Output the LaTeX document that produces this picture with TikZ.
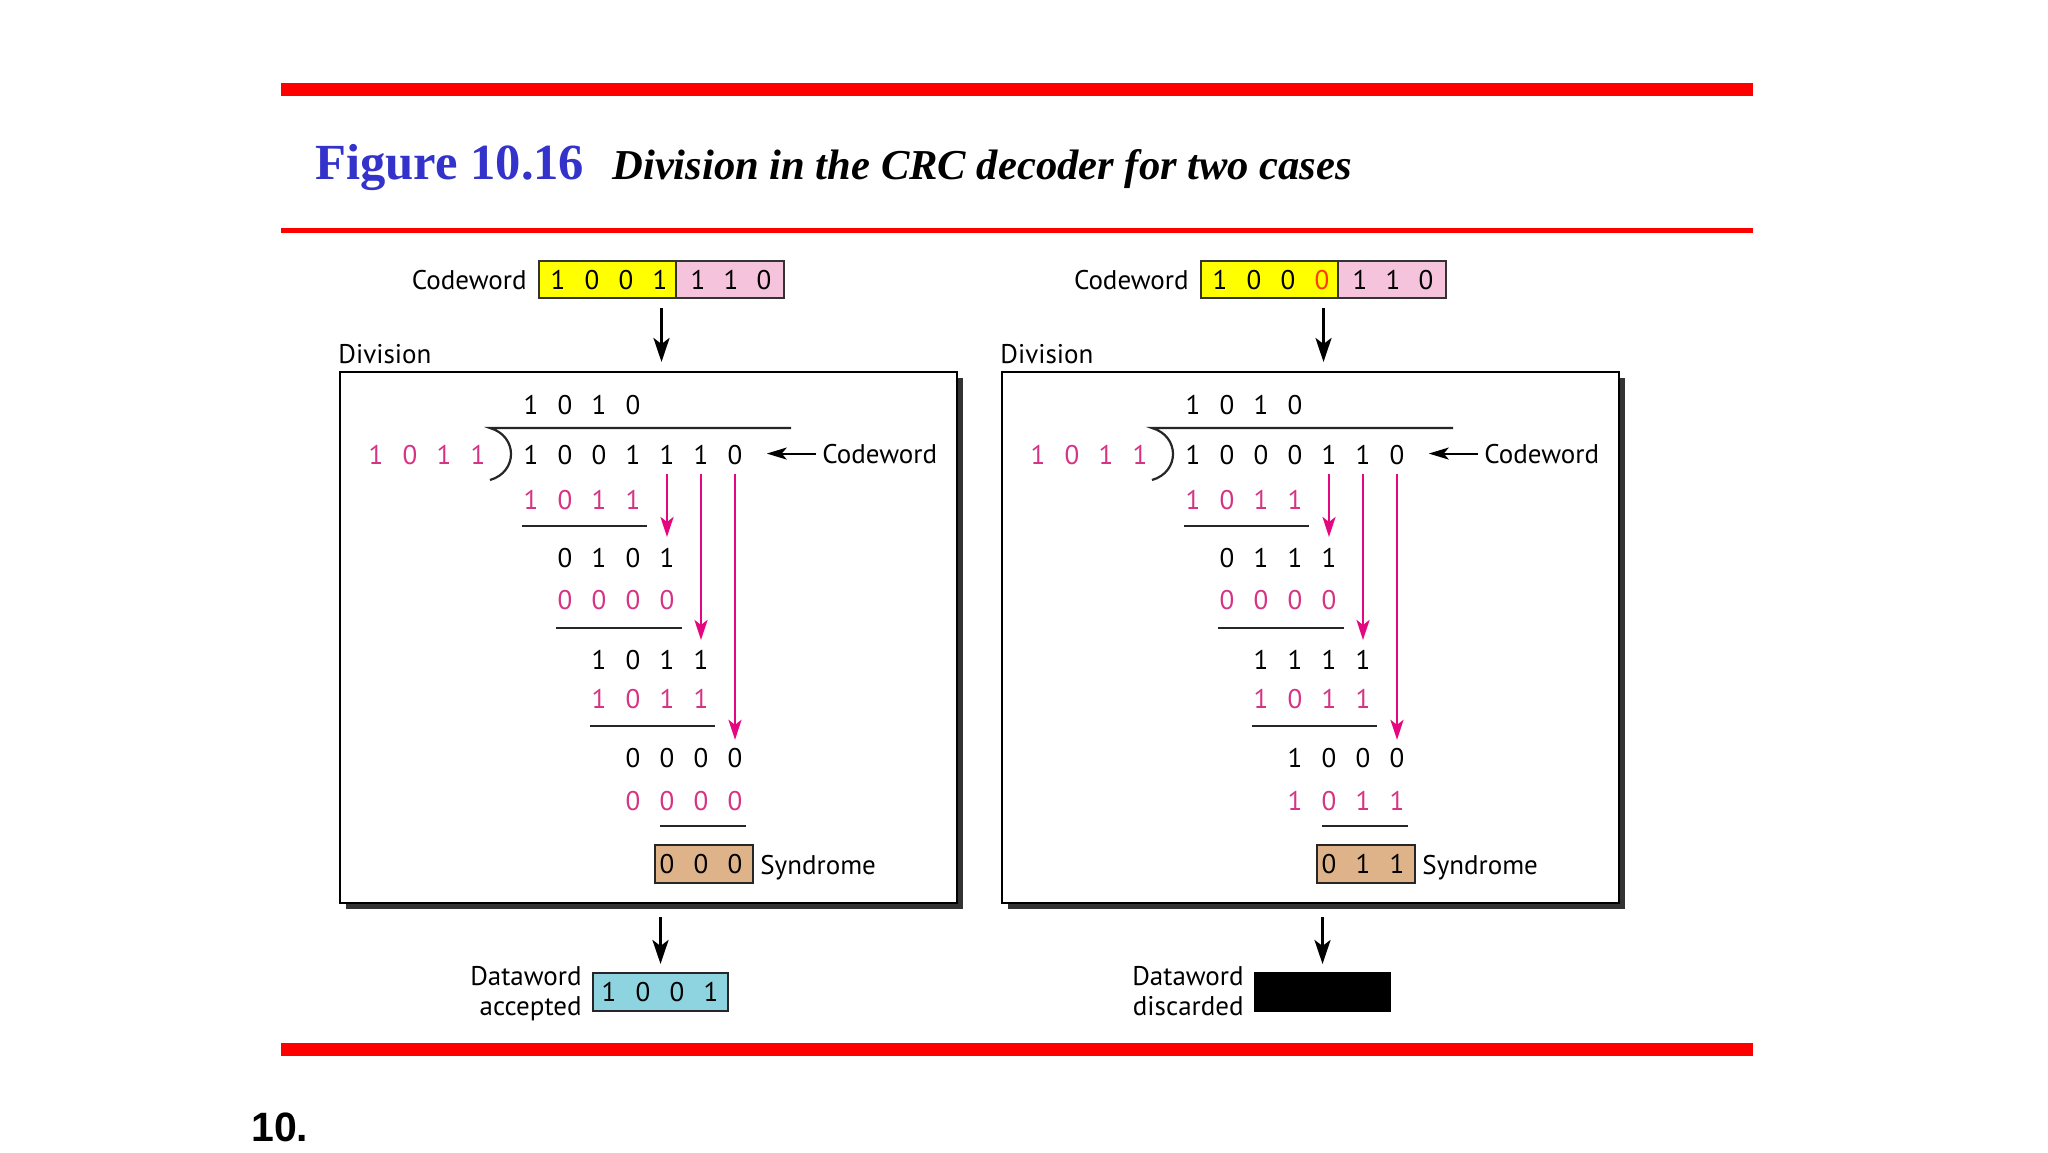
\documentclass[tikz,border=0pt]{standalone}
\usepackage{fontspec}
\setmainfont{Liberation Serif}
\newfontfamily\dfont{PT Sans}
\newfontfamily\hfont{Liberation Sans}
\usetikzlibrary{arrows.meta,calc}
\definecolor{redbar}{HTML}{FF0000}
\definecolor{titleblue}{HTML}{3333CC}
\definecolor{mag}{HTML}{D63384}
\definecolor{magarrow}{HTML}{E5077F}
\definecolor{cwyellow}{HTML}{FFFF00}
\definecolor{cwpink}{HTML}{F6C3DC}
\definecolor{syntan}{HTML}{DFB38A}
\definecolor{dwblue}{HTML}{8DD3E0}
\definecolor{errred}{HTML}{FF3A00}

\newcommand\drow[5]{% prefix-name, y, startcol, digits, color
  \foreach \d [count=\i from 0] in {#4}{%
    \node[dig,text=#5] (#1-\i) at ({531+34*(#3+\i)},#2) {\d};}}

\newcommand\crcpanel[8]{%
  % codeword box
  \fill[cwyellow] (539,261) rectangle (676,298);
  \fill[cwpink] (676,261) rectangle (784,298);
  \draw[line width=0.8pt,black!80] (676,261) -- (676,298);
  \node[draw=black!80,line width=1pt,minimum width=122.5pt,minimum height=18.5pt,inner sep=0pt] (#1-cw) at (661.5,279.5) {};
  \foreach \d [count=\i from 0] in {#2}{\node[dig] (#1-cy\i) at ({558+34*\i},280) {\d};}
  \foreach \d [count=\i from 0] in {1,1,0}{\node[dig] (#1-cp\i) at ({698+33*\i},280) {\d};}
  \node[lbl,anchor=base east] (#1-cwlbl) at (527,289) {Codeword};
  % division box
  \node[lbl,anchor=base west] (#1-divlbl) at (338,363) {Division};
  \fill[black!80] (346,378) rectangle (963,909);
  \node[draw,fill=white,line width=1pt,minimum width=308.5pt,minimum height=265.5pt,inner sep=0pt] (#1-box) at (648.5,637.5) {};
  \draw[arr] ([yshift=-4.5pt]#1-cw.south) -- ([yshift=4.5pt]#1-cw.south |- #1-box.north);
  % long division
  \drow{#1-q}{405}{0}{1,0,1,0}{black}
  \foreach \d [count=\i from 0] in {1,0,1,1}{\node[dig,text=mag] (#1-dv\i) at ({376+34*\i},455) {\d};}
  \draw[rule] (791,428) -- (490,428) .. controls (518,436) and (518,472) .. (490,480);
  \drow{#1-d}{455}{0}{#3}{black}
  \node[lbl,anchor=base west] (#1-cwr) at (822,463) {Codeword};
  \draw[sarr] ([xshift=-3pt]#1-cwr.west) -- ([xshift=12pt]#1-d-6.east |- #1-cwr.west);
  \drow{#1-r2}{500}{0}{1,0,1,1}{mag}
  \draw[rule] (522,526) -- (647,526);
  \drow{#1-r3}{558}{1}{#4}{black}
  \drow{#1-r4}{600}{1}{0,0,0,0}{mag}
  \draw[rule] (556,628) -- (682,628);
  \drow{#1-r5}{660}{2}{#5}{black}
  \drow{#1-r6}{699}{2}{1,0,1,1}{mag}
  \draw[rule] (590,726) -- (715,726);
  \drow{#1-r7}{758}{3}{#6}{black}
  \drow{#1-r8}{801}{3}{#7}{mag}
  \draw[rule] (660,826) -- (746,826);
  % bring-down arrows
  \draw[marr] ([yshift=-4.5pt]#1-d-4.south) -- ([yshift=5.5pt]#1-r3-3.north);
  \draw[marr] ([yshift=-4.5pt]#1-d-5.south) -- ([yshift=5pt]#1-r5-3.north);
  \draw[marr] ([yshift=-4.5pt]#1-d-6.south) -- ([yshift=4pt]#1-r7-3.north);
  % syndrome
  \node[draw=black!85,fill=syntan,line width=1pt,minimum width=49pt,minimum height=19pt,inner sep=0pt] (#1-syn) at (704,864) {};
  \foreach \d [count=\i from 0] in {#8}{\node[dig] (#1-s\i) at ({667+34*\i},864) {\d};}
  \node[lbl,anchor=base west] (#1-synlbl) at (760,874) {Syndrome};
}

\begin{document}
\begin{tikzpicture}[x=0.5pt,y=-0.5pt,
  dfnt/.style={font=\dfont\fontsize{13.5pt}{15pt}\selectfont},
  dig/.style={dfnt,inner sep=0pt},
  lbl/.style={dfnt,inner sep=0pt},
  arr/.style={-{Stealth[length=12pt,width=8pt,inset=3pt]},line width=1.6pt,black},
  sarr/.style={-{Stealth[length=10pt,width=6pt,inset=2.5pt]},line width=1pt,black},
  marr/.style={-{Stealth[length=10pt,width=6.5pt,inset=2.5pt]},line width=1.3pt,magarrow},
  rule/.style={line width=1.1pt,black!85},
]
\useasboundingbox (0,0) rectangle (2048,1152);
\fill[white] (0,0) rectangle (2048,1152);
% red bars
\fill[redbar] (281,83) rectangle (1753,96);
\fill[redbar] (281,228) rectangle (1753,233);
\fill[redbar] (281,1043) rectangle (1753,1056);
% title
\node[anchor=base west,inner sep=0pt,text=titleblue,font=\fontsize{25.3pt}{28pt}\selectfont\bfseries] (fig) at (315,179) {Figure 10.16};
\node[anchor=base west,inner sep=0pt,font=\fontsize{21.3pt}{24pt}\selectfont\bfseries\itshape] (cap) at (612,179) {Division in the CRC decoder for two cases};
\node[anchor=base west,inner sep=0pt,font=\hfont\fontsize{20.5pt}{24pt}\selectfont\bfseries] (num) at (251,1141) {10.};

% left panel
\crcpanel{L}{1,0,0,1}{1,0,0,1,1,1,0}{0,1,0,1}{1,0,1,1}{0,0,0,0}{0,0,0,0}{0,0,0}
\node[draw=black!85,fill=dwblue,line width=1pt,minimum width=67.5pt,minimum height=19pt,inner sep=0pt] (L-dw) at (660.5,992) {};
\foreach \d [count=\i from 0] in {1,0,0,1}{\node[dig] (L-dwd\i) at ({609+34*\i},992) {\d};}
\node[lbl,anchor=base east] (L-dwl1) at (582,985) {Dataword};
\node[lbl,anchor=base east] (L-dwl2) at (582,1015) {accepted};
\draw[arr] ([yshift=-6.5pt]L-dw.north |- L-box.south) -- ([yshift=4pt]L-dw.north);

% right panel
\begin{scope}[xshift=331pt]
\crcpanel{R}{1,0,0,{\textcolor{errred}{0}}}{1,0,0,0,1,1,0}{0,1,1,1}{1,1,1,1}{1,0,0,0}{1,0,1,1}{0,1,1}
\node[draw=black,fill=black,line width=1pt,minimum width=67.5pt,minimum height=19pt,inner sep=0pt] (R-dw) at (660.5,992) {};
\node[lbl,anchor=base east] (R-dwl1) at (582,985) {Dataword};
\node[lbl,anchor=base east] (R-dwl2) at (582,1015) {discarded};
\draw[arr] ([yshift=-6.5pt]R-dw.north |- R-box.south) -- ([yshift=4pt]R-dw.north);
\end{scope}
\end{tikzpicture}
\end{document}
